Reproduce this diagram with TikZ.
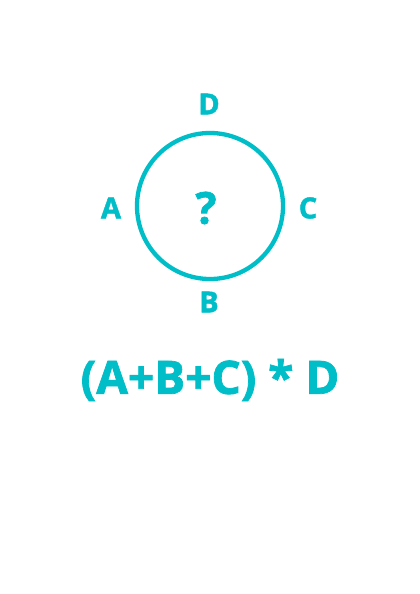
\documentclass[tikz,border=0pt]{standalone}
\usepackage{fontspec}
\setmainfont{Open Sans}[BoldFeatures={FakeBold=1.6}]
\usepackage{tikz}

\definecolor{tealq}{RGB}{0,190,200}

\tikzset{
  lbl/.style={text=tealq,font=\fontsize{29}{29}\selectfont\bfseries,inner sep=0pt},
  ring/.style={draw=tealq,line width=4.3pt}
}

\begin{document}
\begin{tikzpicture}[x=1pt,y=-1pt]
\useasboundingbox[fill=white] (0,0) rectangle (420,594);

\draw [ring] (210,206) circle (73);

\node (q) [text=tealq,font=\fontsize{44}{44}\selectfont\bfseries,inner sep=0pt] at (206,208) {?};

\node (d) [lbl] at (209,104) {D};
\node (a) [lbl] at (111,208) {A};
\node (c) [lbl] at (308,208) {C};
\node (b) [lbl] at (209,302) {B};

\node (sum) [text=tealq,font=\fontsize{46}{46}\selectfont\bfseries,inner sep=0pt] at (210,380) {(A+B+C) * D};
\end{tikzpicture}
\end{document}
